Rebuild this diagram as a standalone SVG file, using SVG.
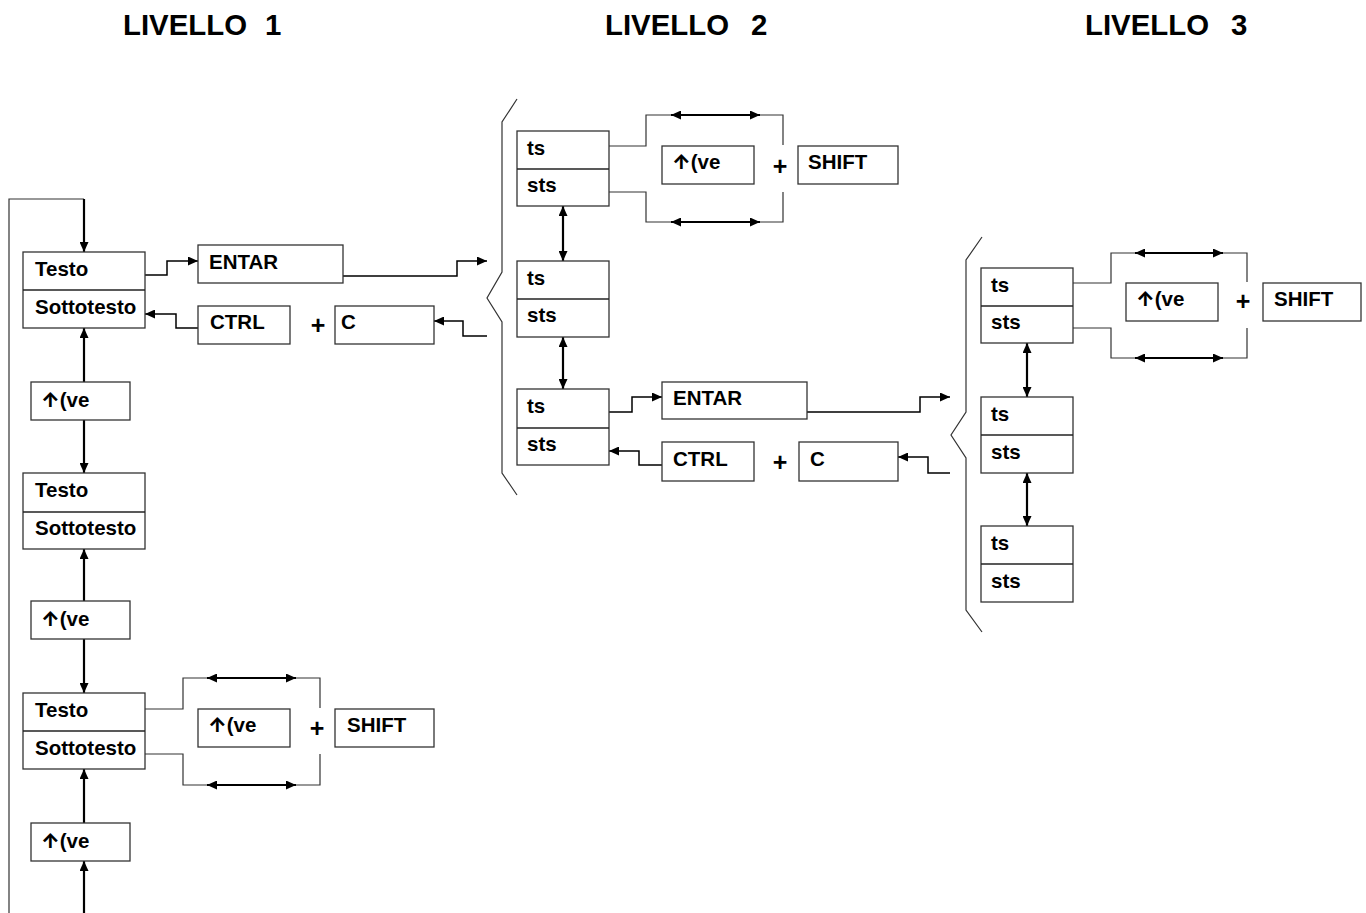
<svg xmlns="http://www.w3.org/2000/svg" width="1366" height="913" viewBox="0 0 1366 913">
<defs>
<marker id="ah" viewBox="0 0 10 9" refX="10" refY="4.5" markerWidth="10" markerHeight="9" markerUnits="userSpaceOnUse" orient="auto-start-reverse">
<path d="M0,0 L10,4.5 L0,9 z" fill="#000"/>
</marker>
</defs>
<style>
.box{fill:#fff;stroke:#333;stroke-width:1.3}
.div{stroke:#222;stroke-width:1.5}
.t{font-family:"Liberation Sans",Arial,"DejaVu Sans",sans-serif;font-weight:bold;font-size:20.5px;fill:#000}
.ar{font-family:Inter,Roboto,"DejaVu Sans",sans-serif;font-weight:800;font-size:20px;fill:#000}
.p{font-family:"Liberation Sans",Arial,sans-serif;font-weight:bold;font-size:25px;fill:#000;text-anchor:middle}
.h{font-family:"Liberation Sans",Arial,sans-serif;font-weight:bold;font-size:29.4px;fill:#000}
.thin{fill:none;stroke:#333;stroke-width:1.2}
.arr{fill:none;stroke:#000;stroke-width:1.5;marker-end:url(#ah)}
.varr{fill:none;stroke:#000;stroke-width:2.2;marker-end:url(#ah)}
.darr{fill:none;stroke:#000;stroke-width:2.2;marker-start:url(#ah);marker-end:url(#ah)}
</style>
<rect width="1366" height="913" fill="#fff"/>

<g id="headings">
<text class="h" x="123" y="35">LIVELLO<tspan x="265">1</tspan></text>
<text class="h" x="605" y="35">LIVELLO<tspan x="751">2</tspan></text>
<text class="h" x="1085" y="35">LIVELLO<tspan x="1231">3</tspan></text>
</g>

<g id="connectors">
<polyline class="thin" points="9,913 9,199 84,199"/>
<path class="varr" d="M84,199 V252"/>
<path class="varr" d="M84,382 V328"/>
<path class="varr" d="M84,420 V473"/>
<path class="varr" d="M84,601 V549"/>
<path class="varr" d="M84,639 V693"/>
<path class="varr" d="M84,823 V769"/>
<path class="varr" d="M84,913 V861"/>
<path class="arr" d="M145,275 H167 V261 H198"/>
<path class="arr" d="M343,276 H457 V261 H487"/>
<path class="arr" d="M487,336 H463 V321 H434"/>
<path class="arr" d="M198,328 H176 V314 H145"/>
<path class="thin" d="M145,709 H183 V678 H320 V708"/>
<path class="thin" d="M145,754 H183 V785 H320 V754"/>
<path class="darr" d="M207,678 H296"/>
<path class="darr" d="M207,785 H296"/>
<path class="thin" d="M517,99 L502,122 L502,272 L487,298 L502,322 L502,473 L517,495"/>
<path class="thin" d="M609,146 H646 V115 H783 V145"/>
<path class="thin" d="M609,192 H646 V222 H783 V192"/>
<path class="darr" d="M671,115 H760"/>
<path class="darr" d="M671,222 H760"/>
<path class="darr" d="M563,206 V261"/>
<path class="darr" d="M563,337 V389"/>
<path class="arr" d="M609,412 H632 V397 H662"/>
<path class="arr" d="M807,412 H920 V397 H950"/>
<path class="arr" d="M950,473 H928 V457 H898"/>
<path class="arr" d="M662,465 H639 V451 H609"/>
<path class="thin" d="M982,237 L966,260 L966,412 L951,435 L966,458 L966,610 L982,632"/>
<path class="thin" d="M1073,283 H1111 V253 H1247 V282"/>
<path class="thin" d="M1073,328 H1111 V358 H1247 V328"/>
<path class="darr" d="M1135,253 H1223"/>
<path class="darr" d="M1135,358 H1223"/>
<path class="darr" d="M1027,343 V397"/>
<path class="darr" d="M1027,473 V526"/>
</g>

<g id="l1-box1">
<rect class="box" x="23" y="252" width="122" height="76"/>
<line class="div" x1="23" y1="290" x2="145" y2="290"/>
<text class="t" x="35" y="276">Testo</text>
<text class="t" x="35" y="314">Sottotesto</text>
</g>
<g id="l1-entar">
<rect class="box" x="198" y="245" width="145" height="38"/>
<text class="t" x="209" y="269">ENTAR</text>
</g>
<g id="l1-ctrl">
<rect class="box" x="198" y="306" width="92" height="38"/>
<text class="t" x="210" y="329">CTRL</text>
</g>
<g id="l1-plus1"><text class="p" x="318" y="334">+</text></g>
<g id="l1-c">
<rect class="box" x="335" y="306" width="99" height="38"/>
<text class="t" x="341" y="329">C</text>
</g>
<g id="l1-up1">
<rect class="box" x="31" y="382" width="99" height="38"/>
<text x="41" y="407"><tspan class="ar">↑</tspan><tspan class="t">(ve</tspan></text>
</g>
<g id="l1-box2">
<rect class="box" x="23" y="473" width="122" height="76"/>
<line class="div" x1="23" y1="512" x2="145" y2="512"/>
<text class="t" x="35" y="497">Testo</text>
<text class="t" x="35" y="535">Sottotesto</text>
</g>
<g id="l1-up2">
<rect class="box" x="31" y="601" width="99" height="38"/>
<text x="41" y="626"><tspan class="ar">↑</tspan><tspan class="t">(ve</tspan></text>
</g>
<g id="l1-box3">
<rect class="box" x="23" y="693" width="122" height="76"/>
<line class="div" x1="23" y1="731" x2="145" y2="731"/>
<text class="t" x="35" y="717">Testo</text>
<text class="t" x="35" y="755">Sottotesto</text>
</g>
<g id="l1-upshift">
<rect class="box" x="198" y="709" width="92" height="38"/>
<text x="208" y="732"><tspan class="ar">↑</tspan><tspan class="t">(ve</tspan></text>
</g>
<g id="l1-plus2"><text class="p" x="317" y="737">+</text></g>
<g id="l1-shift">
<rect class="box" x="335" y="709" width="99" height="38"/>
<text class="t" x="347" y="732">SHIFT</text>
</g>
<g id="l1-up3">
<rect class="box" x="31" y="823" width="99" height="38"/>
<text x="41" y="848"><tspan class="ar">↑</tspan><tspan class="t">(ve</tspan></text>
</g>

<g id="l2-boxA">
<rect class="box" x="517" y="131" width="92" height="75"/>
<line class="div" x1="517" y1="169" x2="609" y2="169"/>
<text class="t" x="527" y="155">ts</text>
<text class="t" x="527" y="192">sts</text>
</g>
<g id="l2-upshift">
<rect class="box" x="662" y="146" width="92" height="38"/>
<text x="672" y="169"><tspan class="ar">↑</tspan><tspan class="t">(ve</tspan></text>
</g>
<g id="l2-plus1"><text class="p" x="780" y="175">+</text></g>
<g id="l2-shift">
<rect class="box" x="798" y="146" width="100" height="38"/>
<text class="t" x="808" y="169">SHIFT</text>
</g>
<g id="l2-boxB">
<rect class="box" x="517" y="261" width="92" height="76"/>
<line class="div" x1="517" y1="299" x2="609" y2="299"/>
<text class="t" x="527" y="285">ts</text>
<text class="t" x="527" y="322">sts</text>
</g>
<g id="l2-boxC">
<rect class="box" x="517" y="389" width="92" height="76"/>
<line class="div" x1="517" y1="428" x2="609" y2="428"/>
<text class="t" x="527" y="413">ts</text>
<text class="t" x="527" y="451">sts</text>
</g>
<g id="l2-entar">
<rect class="box" x="662" y="382" width="145" height="37"/>
<text class="t" x="673" y="405">ENTAR</text>
</g>
<g id="l2-ctrl">
<rect class="box" x="662" y="442" width="92" height="39"/>
<text class="t" x="673" y="466">CTRL</text>
</g>
<g id="l2-plus2"><text class="p" x="780" y="471">+</text></g>
<g id="l2-c">
<rect class="box" x="799" y="442" width="99" height="39"/>
<text class="t" x="810" y="466">C</text>
</g>

<g id="l3-boxD">
<rect class="box" x="981" y="268" width="92" height="75"/>
<line class="div" x1="981" y1="306" x2="1073" y2="306"/>
<text class="t" x="991" y="292">ts</text>
<text class="t" x="991" y="329">sts</text>
</g>
<g id="l3-upshift">
<rect class="box" x="1126" y="283" width="92" height="38"/>
<text x="1136" y="306"><tspan class="ar">↑</tspan><tspan class="t">(ve</tspan></text>
</g>
<g id="l3-plus"><text class="p" x="1243" y="310">+</text></g>
<g id="l3-shift">
<rect class="box" x="1263" y="283" width="98" height="38"/>
<text class="t" x="1274" y="306">SHIFT</text>
</g>
<g id="l3-boxE">
<rect class="box" x="981" y="397" width="92" height="76"/>
<line class="div" x1="981" y1="435" x2="1073" y2="435"/>
<text class="t" x="991" y="421">ts</text>
<text class="t" x="991" y="459">sts</text>
</g>
<g id="l3-boxF">
<rect class="box" x="981" y="526" width="92" height="76"/>
<line class="div" x1="981" y1="564" x2="1073" y2="564"/>
<text class="t" x="991" y="550">ts</text>
<text class="t" x="991" y="588">sts</text>
</g>
</svg>
